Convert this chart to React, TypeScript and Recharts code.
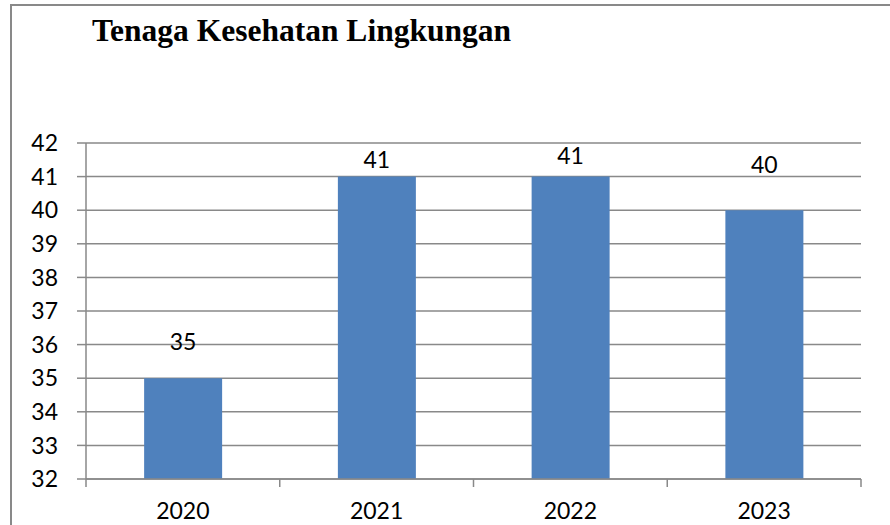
import React from "react";
import {
  BarChart,
  Bar,
  XAxis,
  YAxis,
  CartesianGrid,
  LabelList,
} from "recharts";

const YEARS = ["2020", "2021", "2022", "2023"];
const TENAGA = [35, 41, 41, 40];
const Y_TICKS = [32, 33, 34, 35, 36, 37, 38, 39, 40, 41, 42];

// how far each value label sits above its bar top (manually placed in the source)
const LABEL_LIFT = [36, 17, 21, 45];

const data = YEARS.map((year, i) => ({ year, value: TENAGA[i] }));

const AXIS_GRAY = "#898989";
const BAR_BLUE = "#4F81BD";
const FONT = "Lato, 'Open Sans', sans-serif";

// category tick: label at the band centre, tick marks on the band edges
const YearTick = (props: any) => {
  const { x, y, payload, index, visibleTicksCount, width } = props;
  const half =
    payload && typeof payload.offset === "number" && payload.offset > 0
      ? payload.offset
      : width / visibleTicksCount / 2;
  return (
    <g>
      <line x1={x - half} x2={x - half} y1={y} y2={y + 8} stroke={AXIS_GRAY} strokeWidth={1.5} />
      {index === visibleTicksCount - 1 && (
        <line x1={x + half} x2={x + half} y1={y} y2={y + 8} stroke={AXIS_GRAY} strokeWidth={1.5} />
      )}
      <text x={x} y={y + 24} dy="0.71em" textAnchor="middle" fill="#000" fontSize={23} fontFamily={FONT}>
        {payload.value}
      </text>
    </g>
  );
};

const ValueLabel = (props: any) => {
  const { x, y, width, value, index } = props;
  return (
    <text
      x={x + width / 2}
      y={y - LABEL_LIFT[index]}
      dy="0.355em"
      textAnchor="middle"
      fill="#000"
      fontSize={23}
      fontFamily={FONT}
    >
      {value}
    </text>
  );
};

export default function App() {
  return (
    <div
      style={{
        position: "absolute",
        left: 0,
        top: 0,
        width: 890,
        height: 525,
        overflow: "hidden",
        background: "#fff",
      }}
    >
      <div
        style={{
          position: "absolute",
          left: 10,
          top: 4,
          width: 920,
          height: 560,
          border: `2px solid ${AXIS_GRAY}`,
        }}
      />
      <div
        style={{
          position: "absolute",
          left: 92,
          top: 12,
          fontFamily: "'Liberation Serif', 'Times New Roman', serif",
          fontWeight: "bold",
          fontSize: 31.5,
          lineHeight: "38px",
          color: "#000",
          whiteSpace: "nowrap",
        }}
      >
        Tenaga Kesehatan Lingkungan
      </div>
      <div style={{ position: "absolute", left: 0, top: 0 }}>
        <BarChart
          width={890}
          height={525}
          data={data}
          margin={{ top: 143, right: 29, bottom: 0, left: 0 }}
          barCategoryGap="30%"
        >
          <CartesianGrid vertical={false} stroke={AXIS_GRAY} strokeWidth={1.5} />
          <XAxis
            dataKey="year"
            height={46}
            axisLine={{ stroke: AXIS_GRAY, strokeWidth: 1.5 }}
            tickLine={false}
            tickSize={0}
            tickMargin={0}
            tick={<YearTick />}
            interval={0}
          />
          <YAxis
            domain={[32, 42]}
            ticks={Y_TICKS}
            interval={0}
            width={86}
            tickSize={9}
            tickMargin={19}
            axisLine={{ stroke: AXIS_GRAY, strokeWidth: 1.5 }}
            tickLine={{ stroke: AXIS_GRAY, strokeWidth: 1.5 }}
            tick={{ fill: "#000", fontSize: 23, fontFamily: FONT }}
            allowDataOverflow
          />
          <Bar dataKey="value" fill={BAR_BLUE} isAnimationActive={false}>
            <LabelList dataKey="value" content={<ValueLabel />} />
          </Bar>
        </BarChart>
      </div>
    </div>
  );
}
